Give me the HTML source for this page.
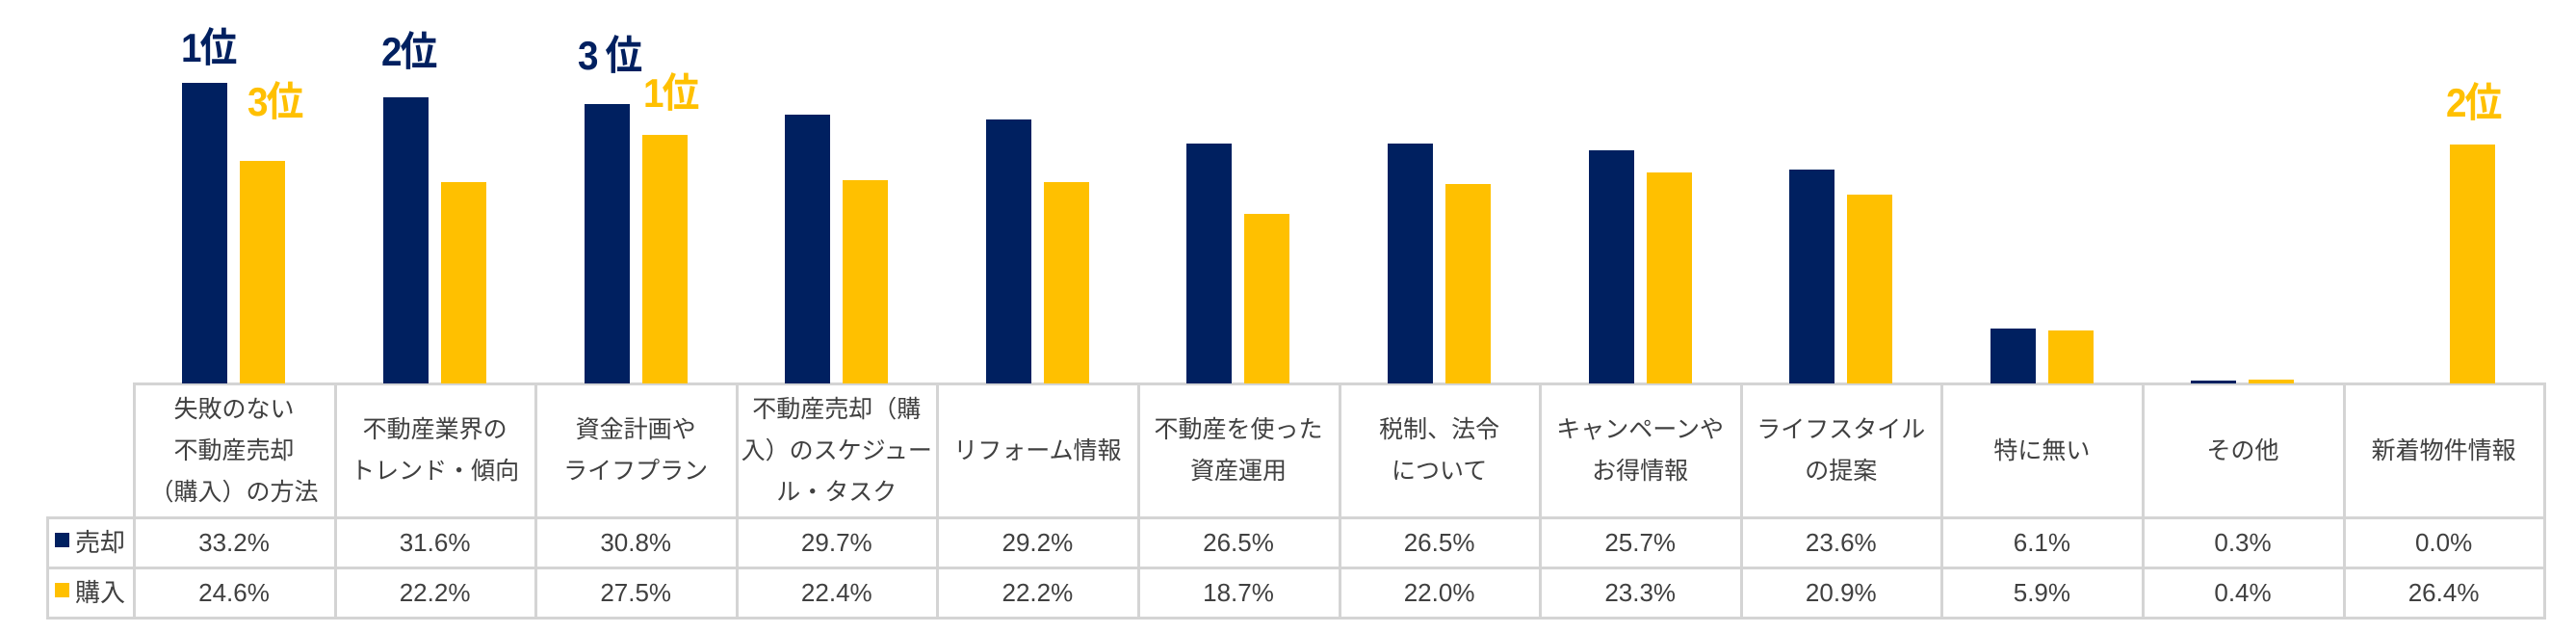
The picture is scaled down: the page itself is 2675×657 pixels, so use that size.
<!DOCTYPE html>
<html><head><meta charset="utf-8"><style>
body{margin:0;width:2675px;height:657px;background:#fff;overflow:hidden;position:relative;font-family:"Liberation Sans","Noto Sans CJK JP",sans-serif;}
.b{position:absolute;}
.n{background:#002060;}
.y{background:#FFC000;}
.rk{position:absolute;font-weight:bold;font-size:42px;line-height:1;letter-spacing:-2px;transform:scaleX(0.92);transform-origin:left top;}
.h{position:absolute;top:399px;height:138px;width:208px;display:flex;align-items:center;justify-content:center;text-align:center;font-size:25px;line-height:43px;color:#404040;}
.v{position:absolute;width:208px;text-align:center;font-size:26px;line-height:30px;height:30px;color:#404040;}
.vl{position:absolute;background:#d4d4d4;}
</style></head><body>
<div class="rk" style="left:188px;top:29px;color:#002060">1位</div>
<div class="rk" style="left:257px;top:85px;color:#FFC000">3位</div>
<div class="rk" style="left:396px;top:33px;color:#002060">2位</div>
<div class="rk" style="left:600px;top:37px;color:#002060">3 位</div>
<div class="rk" style="left:668px;top:76px;color:#FFC000">1位</div>
<div class="rk" style="left:2540px;top:86px;color:#FFC000">2位</div>

<div class="vl" style="left:139px;top:397px;width:2505px;height:3px"></div>
<div class="vl" style="left:48px;top:536px;width:2596px;height:3px"></div>
<div class="vl" style="left:48px;top:588px;width:2596px;height:3px"></div>
<div class="vl" style="left:48px;top:640px;width:2596px;height:3px"></div>
<div class="vl" style="left:48px;top:536px;width:3px;height:107px"></div>

<div class="b n" style="left:57px;top:553px;width:15px;height:15px"></div>
<div class="v" style="left:78px;top:548px;width:60px;text-align:left;font-size:26px">売却</div>
<div class="b y" style="left:57px;top:605px;width:15px;height:15px"></div>
<div class="v" style="left:78px;top:600px;width:60px;text-align:left;font-size:26px">購入</div>

<div id="cells"></div>
<script>
var s=[33.2,31.6,30.8,29.7,29.2,26.5,26.5,25.7,23.6,6.1,0.3,0.0];
var p=[24.6,22.2,27.5,22.4,22.2,18.7,22.0,23.3,20.9,5.9,0.4,26.4];
var h=["失敗のない<br>不動産売却<br>（購入）の方法","不動産業界の<br>トレンド・傾向","資金計画や<br>ライフプラン","不動産売却（購<br>入）のスケジュー<br>ル・タスク","リフォーム情報","不動産を使った<br>資産運用","税制、法令<br>について","キャンペーンや<br>お得情報","ライフスタイル<br>の提案","特に無い","その他","新着物件情報"];
var o="",w=208.6,base=398,k=9.4;
for(var i=0;i<12;i++){
 var x0=139+i*w,c=x0+w/2;
 if(s[i]>0){var hh=Math.max(s[i]*k,2);o+='<div class="b n" style="left:'+(c-54)+'px;top:'+(base-hh)+'px;width:47px;height:'+hh+'px"></div>';}
 var hp=Math.max(p[i]*k,2);o+='<div class="b y" style="left:'+(c+6)+'px;top:'+(base-hp)+'px;width:47px;height:'+hp+'px"></div>';
 o+='<div class="h" style="left:'+x0+'px">'+h[i]+'</div>';
 o+='<div class="v" style="left:'+x0+'px;top:548px">'+s[i].toFixed(1)+'%</div>';
 o+='<div class="v" style="left:'+x0+'px;top:600px">'+p[i].toFixed(1)+'%</div>';
}
for(var j=0;j<=12;j++){o+='<div class="vl" style="left:'+(138+j*w)+'px;top:397px;width:3px;height:246px"></div>';}
document.getElementById("cells").innerHTML=o;
</script>
</body></html>
